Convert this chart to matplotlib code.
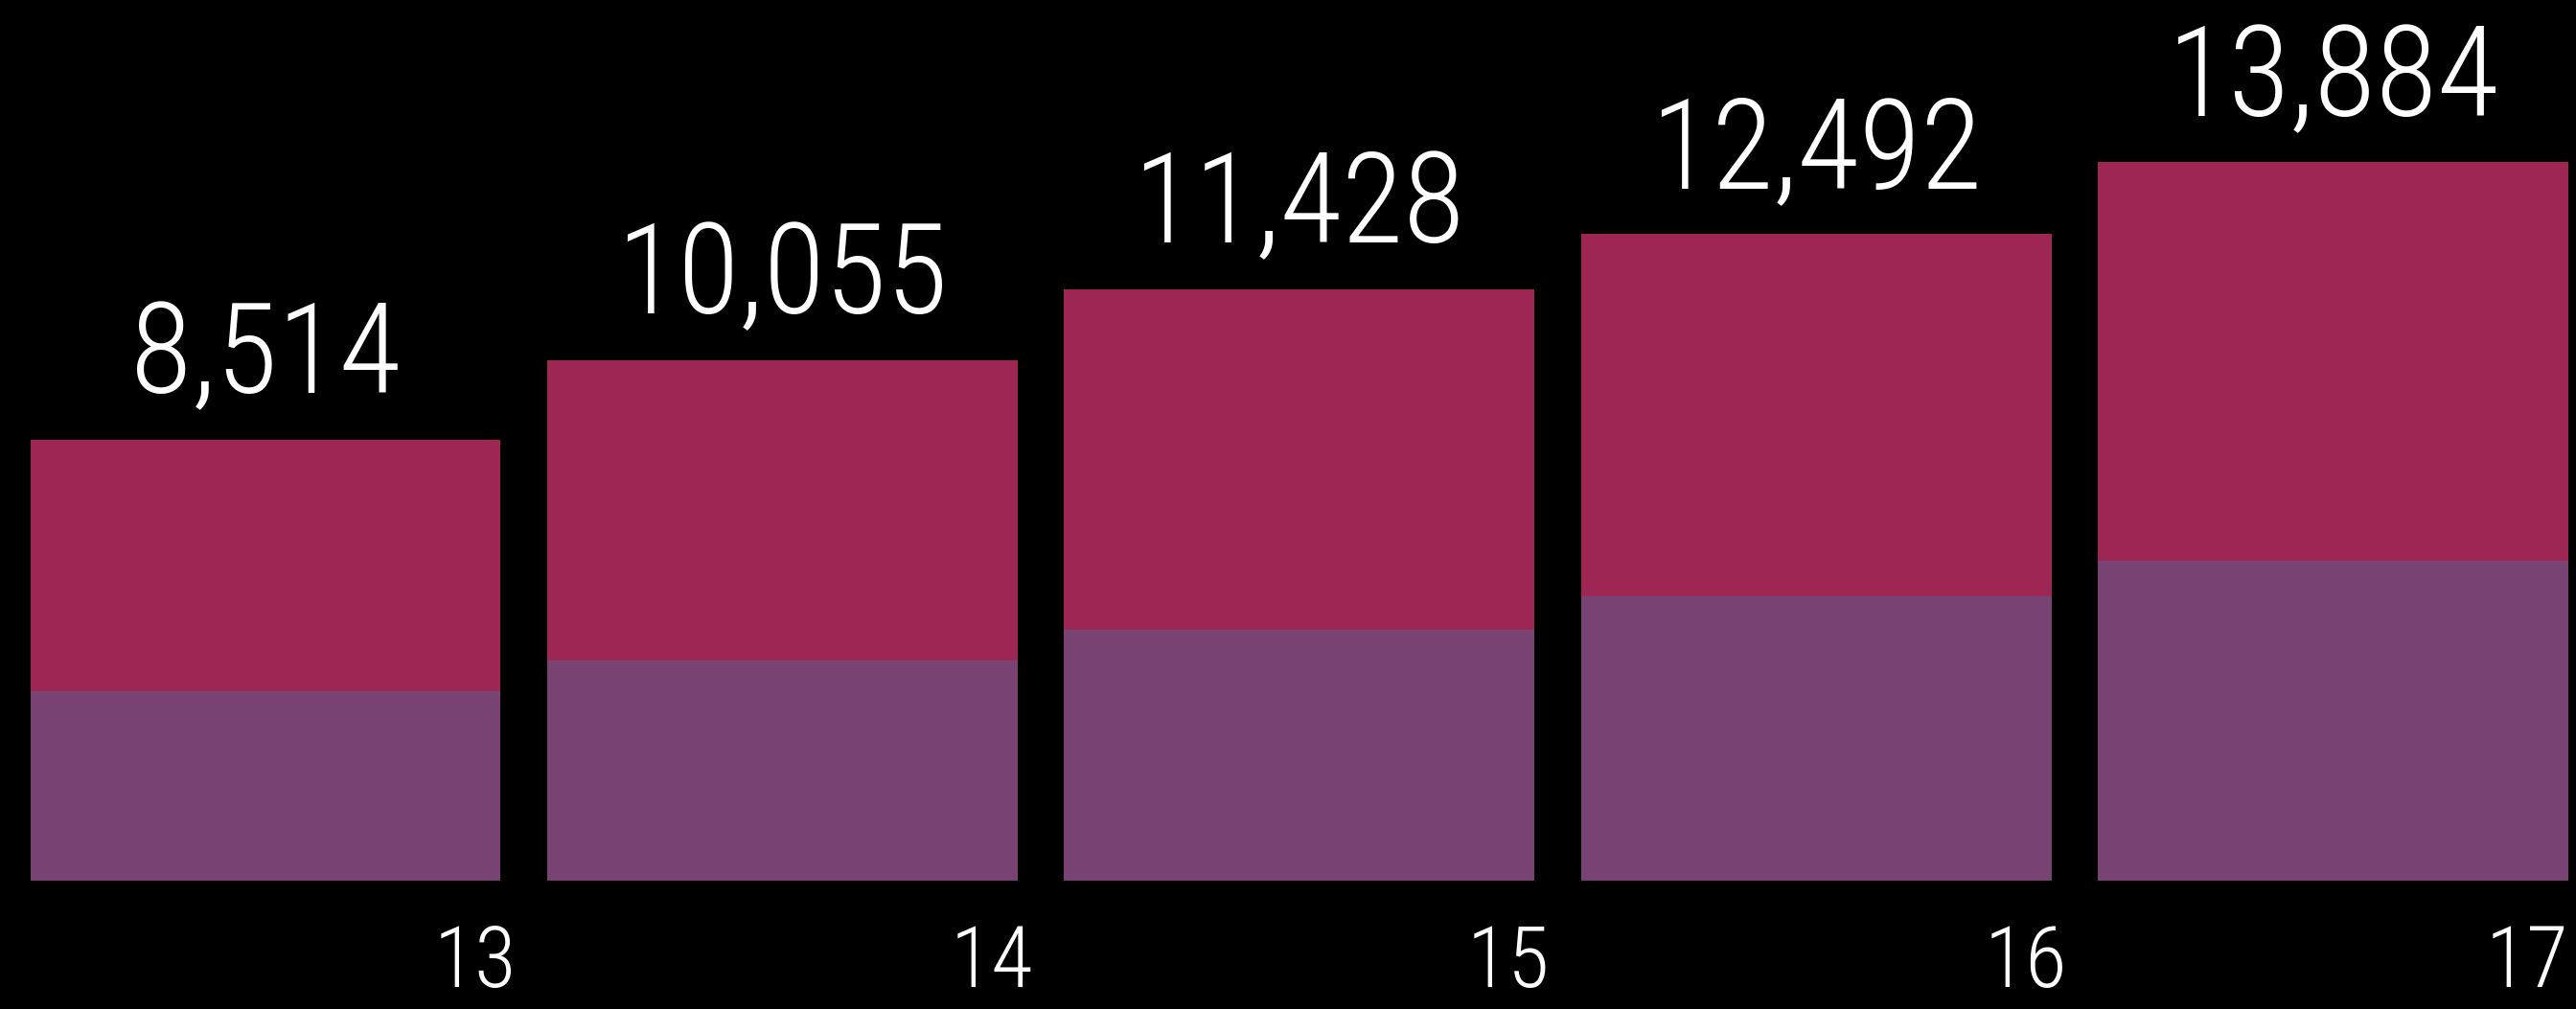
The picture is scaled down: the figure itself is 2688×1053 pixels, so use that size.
import matplotlib
matplotlib.use("Agg")
import matplotlib.pyplot as plt
from matplotlib import font_manager
import numpy as np

# Data
years = ["13", "14", "15", "16", "17"]
totals = [8514, 10055, 11428, 12492, 13884]
lower = [3666, 4260, 4852, 5500, 6186]

TOP_COLOR = "#9D2652"
BOTTOM_COLOR = "#784373"
BG = "#000000"


def pick_font():
    names = {f.name for f in font_manager.fontManager.ttflist}
    for cand in ["Roboto Condensed", "Liberation Sans Narrow", "Roboto", "DejaVu Sans"]:
        if cand in names:
            return cand
    return "DejaVu Sans"


FONT = pick_font()

x = np.arange(len(years))
totals = np.array(totals)
lower = np.array(lower)
upper = totals - lower
width = 0.91

fig = plt.figure(figsize=(26.88, 10.53), dpi=100, facecolor=BG)
ax = fig.add_axes([0, 0, 1, 1])
ax.set_facecolor(BG)

ax.bar(x, lower, width=width, color=BOTTOM_COLOR, linewidth=0)
ax.bar(x, upper, width=width, bottom=lower, color=TOP_COLOR, linewidth=0)

ax.set_xlim(-0.5135, 4.470)
ax.set_ylim(-2482, 17020)
ax.axis("off")

# value labels above each stack
for xi, t in zip(x, totals):
    ax.annotate(f"{t:,}", xy=(xi, t), xytext=(0, 35), textcoords="offset points",
                ha="center", va="baseline", color="white", fontsize=95,
                family=FONT, fontweight="light")

# year labels at the lower right of each bar
x_right = ax.get_xlim()[1]
for xi, lab in zip(x, years):
    pos = min(xi + width / 2 + 0.03, x_right - 0.015)
    ax.annotate(lab, xy=(pos, 0), xytext=(0, -80), textcoords="offset points",
                ha="right", va="baseline", color="white", fontsize=64,
                family=FONT, fontweight="light")

fig.savefig("out.png", dpi=100, facecolor=BG)
